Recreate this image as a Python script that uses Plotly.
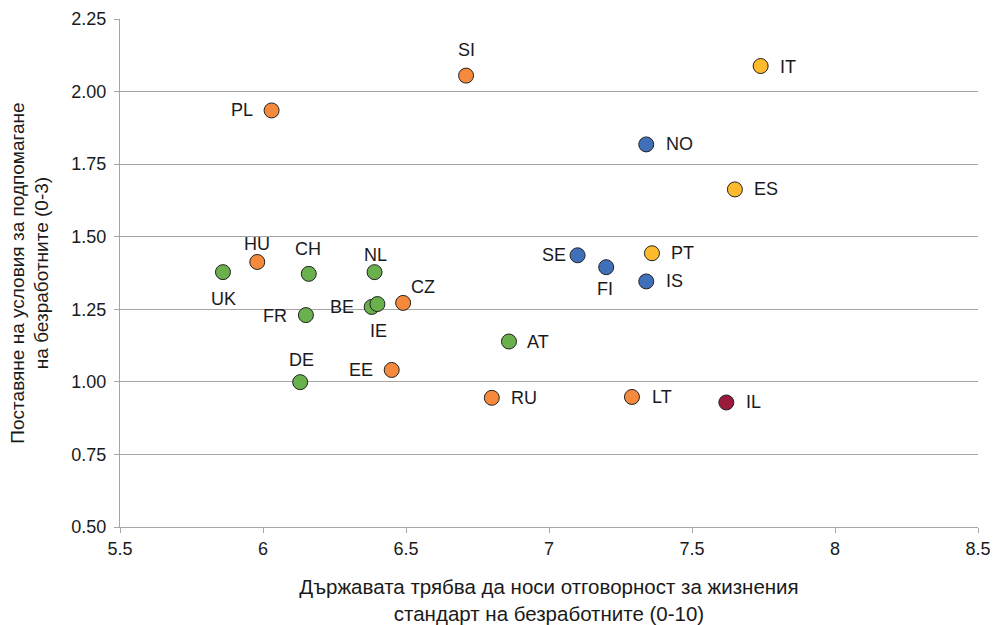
import plotly.graph_objects as go

countries = ["PL", "SI", "HU", "CZ", "EE", "RU", "LT",
             "UK", "CH", "NL", "BE", "IE", "FR", "DE", "AT",
             "NO", "SE", "FI", "IS",
             "IT", "ES", "PT",
             "IL"]
x_vals = [6.03, 6.71, 5.98, 6.49, 6.45, 6.80, 7.29,
          5.86, 6.16, 6.39, 6.38, 6.40, 6.15, 6.13, 6.86,
          7.34, 7.10, 7.20, 7.34,
          7.74, 7.65, 7.36,
          7.62]
y_vals = [1.935, 2.055, 1.413, 1.272, 1.041, 0.945, 0.948,
          1.378, 1.372, 1.378, 1.258, 1.268, 1.230, 0.999, 1.139,
          1.818, 1.436, 1.395, 1.346,
          2.088, 1.663, 1.443,
          0.929]
groups = ["orange"] * 7 + ["green"] * 8 + ["blue"] * 4 + ["yellow"] * 3 + ["red"]

colors = {"orange": "#F58A3D", "green": "#6AB04C", "blue": "#3F70B9",
          "yellow": "#FDBA2C", "red": "#9A1A3B"}

# label offsets in pixels from the marker centre (dx right, dy down)
label_offset = {"PL": (-30, 0), "SI": (0, -26), "HU": (0, -18), "CZ": (20, -16),
                "EE": (-31, 0), "RU": (32, 0), "LT": (30, 0),
                "UK": (1, 27), "CH": (-1, -25), "NL": (1, -17), "BE": (-30, 0),
                "IE": (1, 27), "FR": (-31, 1), "DE": (1, -22), "AT": (29, 0),
                "NO": (33, 0), "SE": (-24, 0), "FI": (-1, 22), "IS": (28, 0),
                "IT": (27, 1), "ES": (31, 0), "PT": (31, 0), "IL": (27, 0)}

x_ticks = [5.5, 6, 6.5, 7, 7.5, 8, 8.5]
x_ticktext = ["5.5", "6", "6.5", "7", "7.5", "8", "8.5"]
y_ticks = [0.5, 0.75, 1.0, 1.25, 1.5, 1.75, 2.0, 2.25]
y_ticktext = ["0.50", "0.75", "1.00", "1.25", "1.50", "1.75", "2.00", "2.25"]

FONT = "Liberation Sans, Arial, sans-serif"
fig = go.Figure()
fig.add_trace(go.Scatter(
    x=x_vals, y=y_vals, mode="markers",
    marker=dict(size=15, color=[colors[g] for g in groups],
                line=dict(color="#222222", width=1)),
    text=countries, cliponaxis=False, showlegend=False, hoverinfo="text"))

for c, xv, yv in zip(countries, x_vals, y_vals):
    dx, dy = label_offset[c]
    fig.add_annotation(x=xv, y=yv, text=c, showarrow=False,
                       xshift=dx, yshift=-dy, xanchor="center", yanchor="middle",
                       font=dict(family=FONT, size=18, color="#1a1a1a"))

fig.update_layout(
    width=995, height=625,
    margin=dict(l=120, r=17, t=19, b=98, autoexpand=False),
    plot_bgcolor="white", paper_bgcolor="white",
    font=dict(family=FONT, size=18, color="#1a1a1a"),
    xaxis=dict(range=[5.5, 8.5], tickvals=x_ticks, ticktext=x_ticktext,
               showgrid=False, zeroline=False, showline=True, linecolor="#A6A6A6",
               linewidth=1, ticks="outside", tickcolor="#A6A6A6", ticklen=5,
               automargin=False, tickfont=dict(size=18),
               title=dict(text="Държавата трябва да носи отговорност за жизнения<br>стандарт на безработните (0-10)",
                          font=dict(size=20.5), standoff=26)),
    yaxis=dict(range=[0.5, 2.25], tickvals=y_ticks, ticktext=y_ticktext,
               showgrid=True, gridcolor="#A6A6A6", gridwidth=1, zeroline=False,
               showline=True, linecolor="#A6A6A6", linewidth=1,
               ticks="outside", tickcolor="#A6A6A6", ticklen=5,
               automargin=False, tickfont=dict(size=18), ticklabelstandoff=4,
               title=dict(text="Поставяне на условия за подпомагане<br>на безработните (0-3)",
                          font=dict(size=19), standoff=17)),
)
fig.write_html("out.html", config={"displayModeBar": False},
               post_script="document.body.style.margin='0';")
